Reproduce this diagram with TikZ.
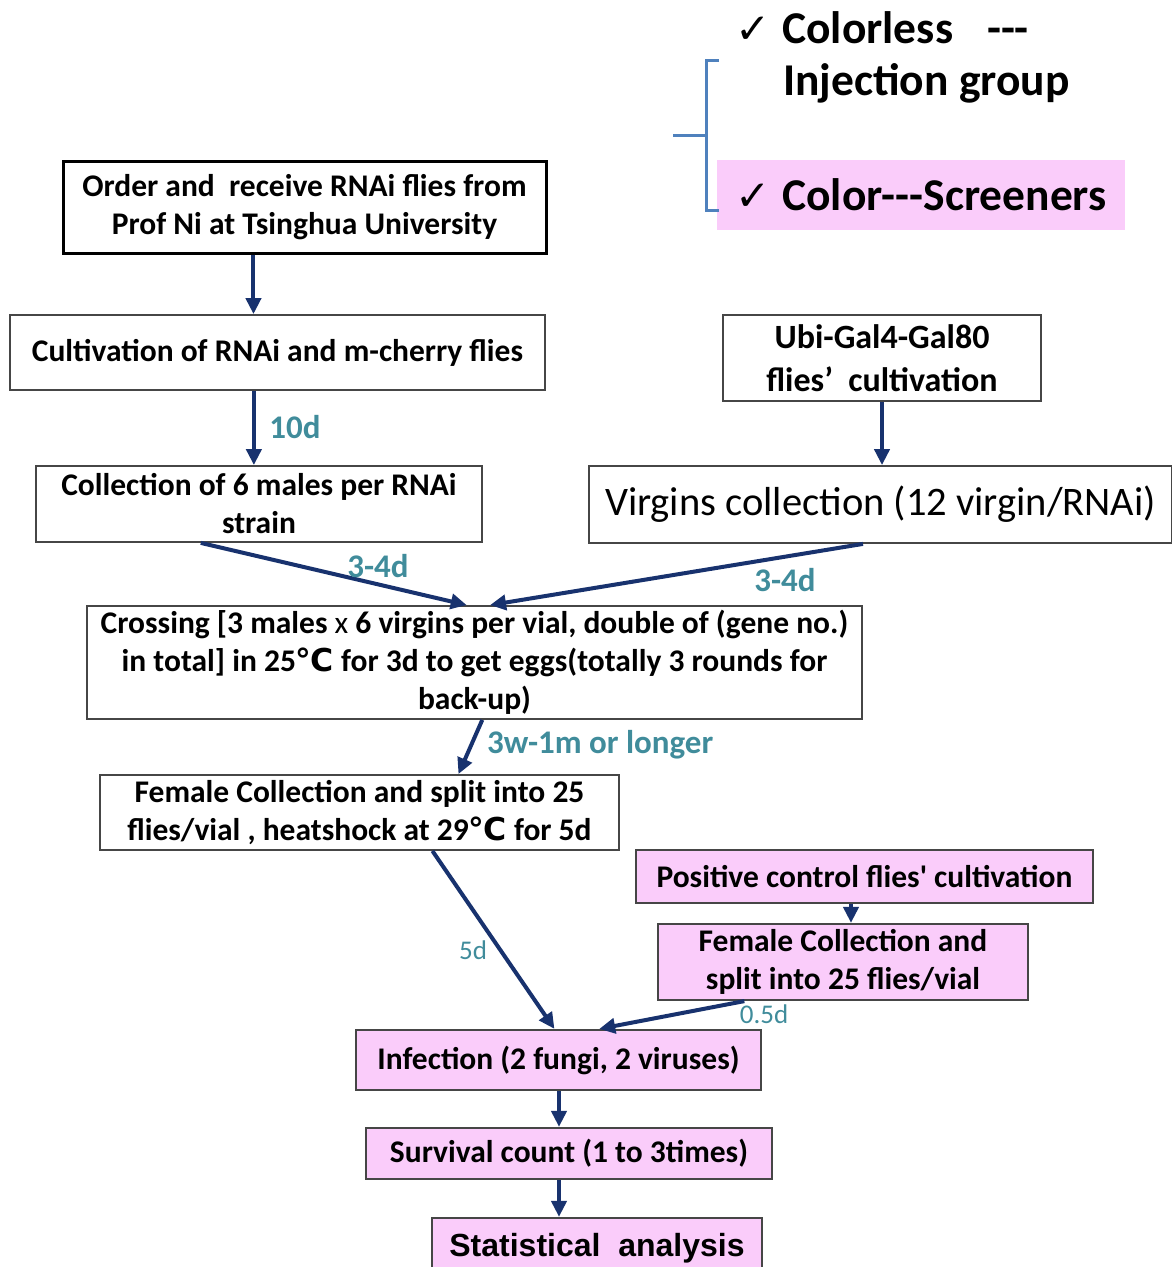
\documentclass[tikz,border=0pt]{standalone}
\usepackage{fontspec}
\setmainfont{Carlito}
\newfontfamily\rawfont{Carlito}
\newfontfamily\arialfont{Liberation Sans}
\newfontfamily\symfont{DejaVu Sans}
\usetikzlibrary{arrows.meta,calc}
\definecolor{pinkfill}{RGB}{250,204,250}
\definecolor{arrownavy}{RGB}{24,50,110}
\definecolor{labelteal}{RGB}{64,140,155}
\definecolor{bracketblue}{RGB}{79,129,189}
\definecolor{boxgray}{RGB}{70,70,70}
\tikzset{
        stepbox/.style={draw=boxgray, line width=1.8pt, align=center, inner sep=0pt,
            font=\fontsize{31.5}{38}\selectfont\bfseries},
        % Screener steps
        pinkbox/.style={stepbox, fill=pinkfill, line width=2.2pt},
        % Arrows between steps
        flowarrow/.style={draw=arrownavy, line width=4pt, -{Triangle[length=16pt,width=15pt]}},
        % Time labels on arrows
        daylabel/.style={text=labelteal, inner sep=0pt, font=\fontsize{33}{36}\selectfont\bfseries},
        thinlabel/.style={text=labelteal, inner sep=0pt, font=\fontsize{27}{30}\selectfont},
        legendtext/.style={anchor=west, inner sep=0pt, font=\fontsize{45.5}{48}\selectfont\bfseries}
}
\newcommand{\tick}{{\mdseries\symfont\fontsize{42}{42}\selectfont ✓}}
\newcommand{\dashes}{{-}{-}{-}}
\begin{document}
\begin{tikzpicture}[x=1pt, y=-1pt]
    \useasboundingbox (0,0) rectangle (1172,1267);
    % legend
    \node[legendtext] (colorless) at (735,28) {\tick\hspace{12pt}Colorless\hspace{34pt}\dashes};
    \node[legendtext] (injection) at (783,83) {Injection group};
    \node[fill=pinkfill, minimum width=408pt, minimum height=70pt, inner sep=0pt,
        font=\fontsize{45.5}{48}\selectfont\bfseries] (screen) at (921,195) {\tick\hspace{12pt}Color\dashes Screeners};
    \draw[bracketblue, line width=3pt] (719,60) -- (706,60) -- (706,210) -- (719,210);
    \draw[bracketblue, line width=3pt] (706,135) -- (673,135);
    % left column
    \node[stepbox, draw=black, line width=3pt, minimum width=483pt, minimum height=92pt] (order) at (304.5,207)
        {Order and \ receive RNAi flies from\\Prof Ni at Tsinghua University};
    \node[stepbox, minimum width=535pt, minimum height=75pt] (cult) at (277.5,352.5)
        {Cultivation of RNAi and m-cherry flies};
    \node[stepbox, minimum width=446pt, minimum height=76pt] (males) at (259,504)
        {Collection of 6 males per RNAi\\strain};
    % right column
    \node[stepbox, minimum width=318pt, minimum height=86pt, font=\fontsize{34}{43}\selectfont\bfseries] (ubi) at (882,358)
        {Ubi-Gal4-Gal80\\flies’\ \ cultivation};
    \node[stepbox, minimum width=583pt, minimum height=77pt, font=\fontsize{40.5}{44}\selectfont] (virg) at (880.5,504.5)
        {Virgins collection (12 virgin/RNAi)};
    % crossing and infection
    \node[stepbox, minimum width=775pt, minimum height=113pt] (cross) at (474.5,662.5)
        {Crossing [3 males {\mdseries x} 6 virgins per vial, double of (gene no.)\\
         in total] in 25{\symfont ℃} for 3d to get eggs(totally 3 rounds for\\back-up)};
    \node[stepbox, minimum width=519pt, minimum height=75pt] (female) at (359.5,812.5)
        {Female Collection and split into 25\\flies/vial , heatshock at 29{\symfont ℃} for 5d};
    \node[pinkbox, minimum width=457pt, minimum height=53pt] (pos) at (864.5,876.5)
        {Positive control flies{\rawfont\bfseries '} cultivation};
    \node[pinkbox, minimum width=370pt, minimum height=76pt] (posfemale) at (843,962)
        {Female Collection and\\split into 25 flies/vial};
    \node[pinkbox, minimum width=405pt, minimum height=60pt] (infect) at (558.5,1060)
        {Infection (2 fungi, 2 viruses)};
    \node[pinkbox, minimum width=406pt, minimum height=51pt] (surv) at (569,1153.5)
        {Survival count (1 to 3times)};
    \node[pinkbox, minimum width=330pt, minimum height=60pt, font=\fontsize{32}{34}\selectfont\bfseries\arialfont] (stat) at (597,1248)
        {Statistical\ \ analysis};
    % arrows
    \draw[flowarrow] ($(order.south west)!0.395!(order.south east)$) coordinate (o1) -- (o1 |- cult.north);
    \draw[flowarrow] ($(cult.south west)!0.456!(cult.south east)$) coordinate (c1) -- (c1 |- males.north);
    \draw[flowarrow] (ubi.south) -- (ubi.south |- virg.north);
    \draw[flowarrow] ($(males.south west)!0.37!(males.south east)$) -- ($(cross.north west)!0.49!(cross.north east)$);
    \draw[flowarrow] ($(virg.south west)!0.47!(virg.south east)$) -- ($(cross.north west)!0.52!(cross.north east)$);
    \draw[flowarrow] ($(cross.south west)!0.51!(cross.south east)$) -- ($(female.north west)!0.69!(female.north east)$);
    \draw[flowarrow] ($(female.south west)!0.64!(female.south east)$) -- ($(infect.north west)!0.49!(infect.north east)$);
    \draw[flowarrow] ($(posfemale.south west)!0.235!(posfemale.south east)$) -- ($(infect.north west)!0.60!(infect.north east)$);
    \draw[flowarrow] (pos.south -| posfemale.north) ++(8,0) coordinate (p1) -- (p1 |- posfemale.north);
    \draw[flowarrow] (infect.south) ++(0.5,0) coordinate (i1) -- (i1 |- surv.north);
    \draw[flowarrow] (i1 |- surv.south) -- (i1 |- stat.north);
    % time labels
    \node[daylabel] (d10) at (295,427) {10d};
    \node[daylabel] (d34a) at (378,566) {3-4d};
    \node[daylabel] (d34b) at (785,580) {3-4d};
    \node[daylabel, anchor=west] (d3w) at (487,745) {3w-1m or longer};
    \node[thinlabel] (d5) at (473,950) {5d};
    \node[thinlabel] (d05) at (764,1014) {0.5d};
\end{tikzpicture}
\end{document}
